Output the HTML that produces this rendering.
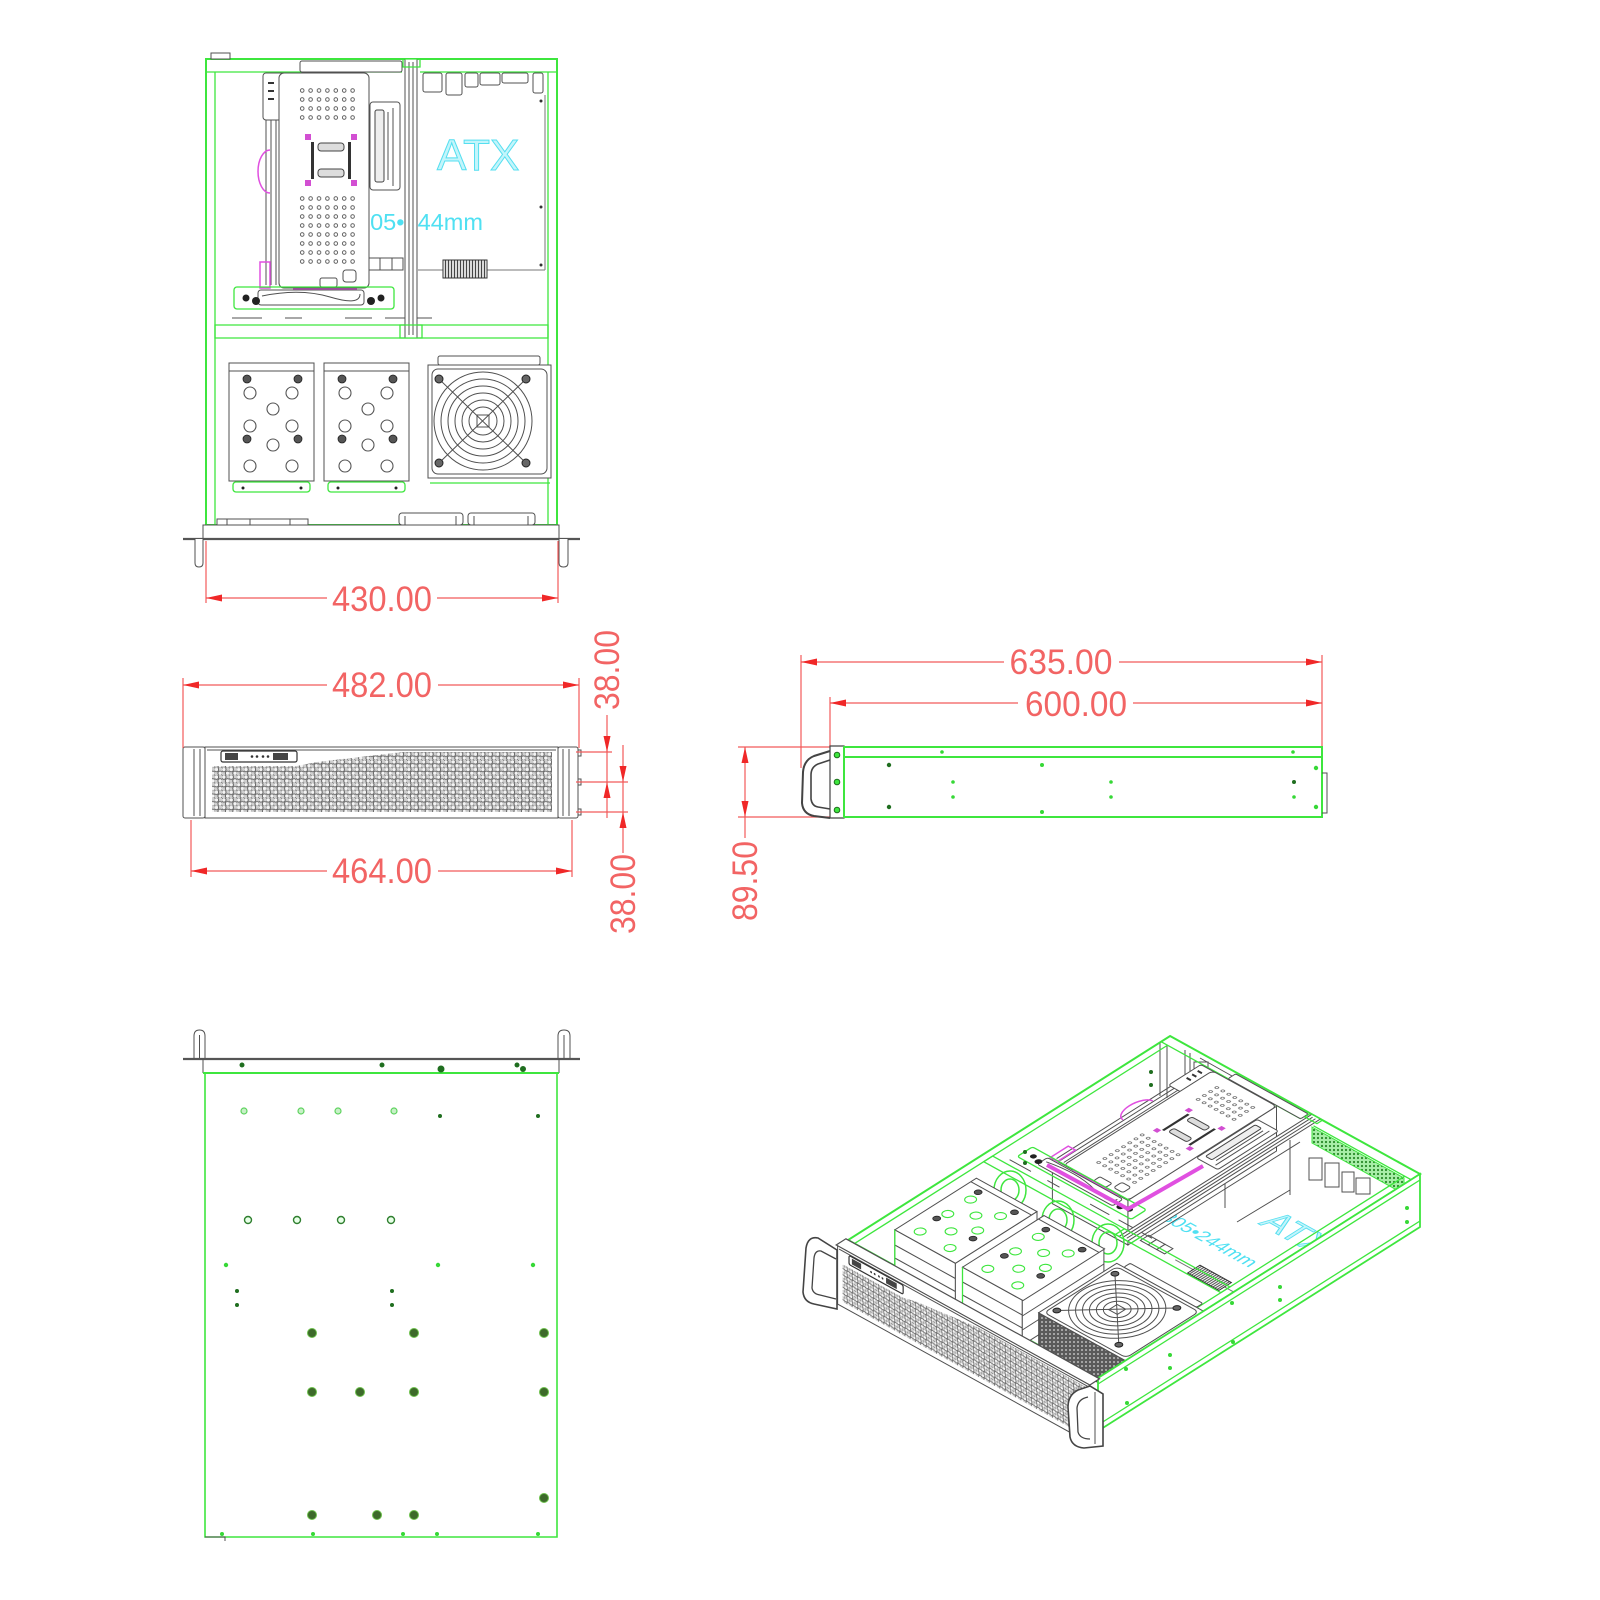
<!DOCTYPE html>
<html><head><meta charset="utf-8">
<style>
html,body{margin:0;padding:0;background:#fff;width:1600px;height:1600px;overflow:hidden}
svg{display:block}
svg *{vector-effect:non-scaling-stroke}
.g{fill:none;stroke:#3ee63e;stroke-width:2}
.g1{fill:none;stroke:#3ee63e;stroke-width:1.3}
.k{fill:none;stroke:#505050;stroke-width:1}
.kw{fill:#fff;stroke:#505050;stroke-width:1}
.r{fill:none;stroke:#f25a5a;stroke-width:1.2}
.ra{fill:#f02828}
.rt{fill:#f26464;font-family:"Liberation Sans",sans-serif;font-size:35px}
.dg{fill:#1f6e1f}
.bg{fill:#36d836}
.hc{fill:#fff;stroke:currentColor;stroke-width:1.1}
.hd{fill:#555;stroke:#222;stroke-width:0.8}
</style></head><body>
<svg width="1600" height="1600" viewBox="0 0 1600 1600" xmlns="http://www.w3.org/2000/svg">
<defs>
<marker id="ar" viewBox="0 0 16 7" refX="16" refY="3.5" markerWidth="16" markerHeight="7" markerUnits="userSpaceOnUse" orient="auto-start-reverse"><path d="M0,0 L16,3.5 L0,7z" fill="#f02828"/></marker>
<pattern id="mesh" width="7.4" height="7.6" patternUnits="userSpaceOnUse">
<rect width="7.4" height="7.6" fill="#cfcfcf"/>
<circle cx="1.85" cy="1.9" r="2.2" fill="#f4f4f4" stroke="#555" stroke-width="0.9"/>
<circle cx="5.55" cy="5.7" r="2.2" fill="#f4f4f4" stroke="#555" stroke-width="0.9"/>
</pattern>
<pattern id="holes" width="8.4" height="9" patternUnits="userSpaceOnUse" x="298" y="86">
<circle cx="4.2" cy="4.5" r="1.8" fill="#fff" stroke="#555" stroke-width="0.9"/>
</pattern>
<pattern id="hatch" width="3" height="3" patternUnits="userSpaceOnUse"><rect width="3" height="3" fill="#fff"/><line x1="1.5" y1="0" x2="1.5" y2="3" stroke="#444" stroke-width="1.4"/></pattern>
<pattern id="vent" width="4" height="4" patternUnits="userSpaceOnUse"><rect width="4" height="4" fill="#5a5a5a"/><circle cx="2" cy="2" r="1" fill="#bbb"/></pattern>
<pattern id="gvent" width="4" height="4" patternUnits="userSpaceOnUse"><rect width="4" height="4" fill="#a8eea8"/><circle cx="2" cy="2" r="1.1" fill="#2a8a2a"/></pattern>

<g id="B">
<text x="437" y="170" font-family="Liberation Sans, sans-serif" font-size="44" fill="#c3f5fb" stroke="#55dff0" stroke-width="1">ATX</text>
<text x="357" y="230" font-family="Liberation Sans, sans-serif" font-size="23" fill="#4fe0f2" textLength="126" lengthAdjust="spacingAndGlyphs">305•244mm</text>
<path d="M418 270H545M545 95V270" fill="none" stroke="#777" stroke-width="1"/>
<rect x="443" y="260" width="44" height="18" fill="url(#hatch)" stroke="#333"/>
<rect x="369" y="258" width="11" height="12" class="kw"/><rect x="380" y="258" width="12" height="12" class="kw"/><rect x="392" y="258" width="11" height="12" class="kw"/>
<circle cx="541" cy="101" r="1.5" fill="#333"/><circle cx="541" cy="207" r="1.5" fill="#333"/><circle cx="541" cy="265" r="1.5" fill="#333"/>
</g>

<g id="A1">
<rect x="206" y="59" width="351" height="466" class="g"/>
<path d="M206 72H402M420 72H557M215 72V525M548 72V525" class="g1"/>
<rect x="215" y="325" width="333" height="13" class="g1"/>
<path d="M232 318H262M285 318H302M345 318H372M385 318H432" class="k"/>
<rect x="300" y="61" width="102" height="11" rx="2" class="kw"/>
<rect x="263" y="73" width="28" height="47" rx="3" class="kw"/>
<path d="M268 83h6M268 91h6M268 99h6" stroke="#333" stroke-width="2" fill="none"/>
<path d="M266 120V285M271 120V285M276 120V285" class="k"/>
<rect x="279" y="73" width="90" height="215" rx="5" class="kw"/>
<rect x="298" y="86" width="59" height="36" fill="url(#holes)"/>
<rect x="298" y="193" width="59" height="72" fill="url(#holes)"/>
<rect x="305" y="134" width="6" height="6" fill="#d24fd2"/><rect x="351" y="134" width="6" height="6" fill="#d24fd2"/>
<rect x="305" y="180" width="6" height="6" fill="#d24fd2"/><rect x="351" y="180" width="6" height="6" fill="#d24fd2"/>
<rect x="311" y="142" width="3" height="37" fill="#333"/><rect x="348" y="142" width="3" height="37" fill="#333"/>
<rect x="318" y="143" width="26" height="8" rx="3" fill="#ddd" stroke="#444"/>
<rect x="318" y="169" width="26" height="8" rx="3" fill="#ddd" stroke="#444"/>
<rect x="320" y="278" width="17" height="9" rx="2" class="kw"/>
<rect x="343" y="270" width="13" height="12" rx="3" class="kw"/>
<path d="M270 150 A12 21.5 0 0 0 270 193" stroke="#e050e0" fill="none" stroke-width="1.5"/>
<rect x="260" y="262" width="10" height="26" fill="none" stroke="#e050e0" stroke-width="1.5"/>
<line x1="293" y1="290" x2="357" y2="290" stroke="#e050e0" stroke-width="3"/>
<rect x="234" y="287" width="160" height="22" rx="3" class="g1"/>
<rect x="258" y="290" width="106" height="15" rx="3" class="kw"/>
<path d="M262 296 Q300 288 330 297 T360 294" class="k"/>
<circle cx="246" cy="298" r="3.5" fill="#222"/><circle cx="256" cy="301" r="4" fill="#222"/>
<circle cx="371" cy="301" r="4" fill="#222"/><circle cx="381" cy="298" r="3.5" fill="#222"/>
<rect x="370" y="102" width="30" height="88" rx="3" class="kw"/>
<rect x="375" y="110" width="9" height="72" rx="2" fill="#eee" stroke="#444"/>
<path d="M388 112V180M393 108V186" class="k"/>
<rect x="405" y="59" width="12" height="279" class="kw"/>
<path d="M409 62V335M413 62V335" class="k"/>
<rect x="403" y="59" width="17" height="8" class="g1"/>
<rect x="400" y="325" width="22" height="13" class="g1"/>
</g>

<g id="H1">
<rect x="229" y="363" width="85" height="118" class="kw"/>
<path d="M229 371H314" class="k"/>
<circle cx="247" cy="379" r="4" class="hd"/><circle cx="298" cy="379" r="4" class="hd"/>
<circle cx="247" cy="439" r="4" class="hd"/><circle cx="298" cy="439" r="4" class="hd"/>
<circle cx="250" cy="393" r="6" class="hc"/><circle cx="292" cy="393" r="6" class="hc"/>
<circle cx="273" cy="409" r="6" class="hc"/><circle cx="250" cy="426" r="6" class="hc"/>
<circle cx="292" cy="426" r="6" class="hc"/><circle cx="273" cy="445" r="6" class="hc"/>
<circle cx="250" cy="466" r="6" class="hc"/><circle cx="292" cy="466" r="6" class="hc"/>
</g>
<g id="H2">
<rect x="324" y="363" width="85" height="118" class="kw"/>
<path d="M324 371H409" class="k"/>
<circle cx="342" cy="379" r="4" class="hd"/><circle cx="393" cy="379" r="4" class="hd"/>
<circle cx="342" cy="439" r="4" class="hd"/><circle cx="393" cy="439" r="4" class="hd"/>
<circle cx="345" cy="393" r="6" class="hc"/><circle cx="387" cy="393" r="6" class="hc"/>
<circle cx="368" cy="409" r="6" class="hc"/><circle cx="345" cy="426" r="6" class="hc"/>
<circle cx="387" cy="426" r="6" class="hc"/><circle cx="368" cy="445" r="6" class="hc"/>
<circle cx="345" cy="466" r="6" class="hc"/><circle cx="387" cy="466" r="6" class="hc"/>
</g>
<g id="FN">
<rect x="438" y="356" width="102" height="9" rx="2" class="kw"/>
<rect x="428" y="365" width="123" height="113" class="kw"/>
<rect x="432" y="369" width="115" height="105" rx="6" class="k"/>
<circle cx="483" cy="421" r="49" class="k"/><circle cx="483" cy="421" r="42" class="k"/>
<circle cx="483" cy="421" r="35" class="k"/><circle cx="483" cy="421" r="28" class="k"/>
<circle cx="483" cy="421" r="21" class="k"/><circle cx="483" cy="421" r="14" class="k"/>
<rect x="477" y="415" width="12" height="12" class="k"/>
<path d="M439 379L526 463M526 379L439 463" class="k"/>
<circle cx="439" cy="379" r="4" fill="#666" stroke="#222"/><circle cx="526" cy="379" r="4" fill="#666" stroke="#222"/>
<circle cx="439" cy="463" r="4" fill="#666" stroke="#222"/><circle cx="526" cy="463" r="4" fill="#666" stroke="#222"/>
</g>

<g id="C">
<rect x="205" y="747" width="353" height="71" class="kw"/>
<path d="M207 750H556" class="k"/>
<polygon points="212,766 297,766 317,762 360,757 403,752 552,752 552,812 212,812" fill="url(#mesh)"/>
<rect x="221" y="751" width="76" height="11" rx="2" fill="#fff" stroke="#333" stroke-width="1.2"/>
<rect x="225" y="753" width="13" height="7" fill="#444"/>
<rect x="273" y="753" width="15" height="7" fill="#444"/>
<circle cx="252" cy="756.5" r="1.3" fill="#333"/><circle cx="257" cy="756.5" r="1.3" fill="#333"/>
<circle cx="263" cy="756.5" r="1.3" fill="#333"/><circle cx="268" cy="756.5" r="1.3" fill="#333"/>
</g>
</defs>

<!-- TOP VIEW -->
<use href="#B"/>
<use href="#A1"/>
<use href="#H1" style="color:#555"/>
<use href="#H2" style="color:#555"/>
<use href="#FN"/>
<rect x="211" y="53" width="19" height="6" class="kw"/>
<rect x="423" y="73" width="19" height="19" rx="2" class="kw"/>
<rect x="446" y="73" width="16" height="22" rx="2" class="kw"/>
<rect x="465" y="73" width="13" height="14" rx="2" class="kw"/>
<rect x="480" y="73" width="20" height="12" rx="2" class="kw"/>
<rect x="502" y="73" width="26" height="10" rx="2" class="kw"/>
<rect x="533" y="73" width="10" height="20" rx="2" class="kw"/>
<rect x="233" y="482" width="77" height="10" rx="3" class="g1"/>
<rect x="328" y="482" width="77" height="10" rx="3" class="g1"/>
<circle cx="243" cy="488" r="1.5" fill="#222"/><circle cx="301" cy="488" r="1.5" fill="#222"/>
<circle cx="338" cy="488" r="1.5" fill="#222"/><circle cx="396" cy="488" r="1.5" fill="#222"/>
<path d="M430 483H550" class="g1"/>
<rect x="217" y="519" width="91" height="6" class="kw"/>
<path d="M227 519v6M250 519v6M290 519v6" class="k"/>
<rect x="399" y="513" width="64" height="12" rx="3" class="kw"/>
<rect x="468" y="513" width="67" height="12" rx="3" class="kw"/>
<path d="M405 516v9M456 516v9M474 516v9M528 516v9" class="k"/>
<rect x="203" y="525" width="356" height="14" class="kw"/>
<line x1="183" y1="539" x2="580" y2="539" stroke="#555" stroke-width="2.2"/>
<path d="M195 539V563Q195 567 199 567Q203 567 203 563V539" class="kw"/>
<path d="M559 539V563Q559 567 563.5 567Q568 567 568 563V539" class="kw"/>

<path class="r" d="M206 541V603M558 541V603"/>
<line class="r" x1="206" y1="598" x2="327" y2="598" marker-start="url(#ar)"/>
<line class="r" x1="437" y1="598" x2="558" y2="598" marker-end="url(#ar)"/>
<text class="rt" x="382" y="611" text-anchor="middle" textLength="100" lengthAdjust="spacingAndGlyphs">430.00</text>

<!-- FRONT VIEW -->
<use href="#C"/>
<rect x="183" y="747" width="22" height="71" rx="2" class="kw"/>
<path d="M194 749V816M200 749V816" class="k"/>
<rect x="558" y="747" width="20" height="71" rx="2" class="kw"/>
<path d="M563 749V816M569 749V816" class="k"/>
<path d="M578 750h3v6h-3M578 779h3v6h-3M578 809h3v6h-3" class="k"/>

<path class="r" d="M183 678V748M579 678V748"/>
<line class="r" x1="183" y1="685" x2="327" y2="685" marker-start="url(#ar)"/>
<line class="r" x1="438" y1="685" x2="579" y2="685" marker-end="url(#ar)"/>
<text class="rt" x="382" y="697" text-anchor="middle" textLength="100" lengthAdjust="spacingAndGlyphs">482.00</text>

<path class="r" d="M191 820V877M572 820V877"/>
<line class="r" x1="191" y1="871" x2="327" y2="871" marker-start="url(#ar)"/>
<line class="r" x1="438" y1="871" x2="572" y2="871" marker-end="url(#ar)"/>
<text class="rt" x="382" y="883" text-anchor="middle" textLength="100" lengthAdjust="spacingAndGlyphs">464.00</text>

<path class="r" d="M576 752H612M576 782H628M576 812H628M607 715V818M623 745V853"/>
<polygon class="ra" points="607,752 603.5,736 610.5,736"/>
<polygon class="ra" points="607,782 603.5,798 610.5,798"/>
<polygon class="ra" points="623,782 619.5,766 626.5,766"/>
<polygon class="ra" points="623,812 619.5,828 626.5,828"/>
<text class="rt" transform="translate(619 670) rotate(-90)" text-anchor="middle" textLength="80" lengthAdjust="spacingAndGlyphs">38.00</text>
<text class="rt" transform="translate(635 894) rotate(-90)" text-anchor="middle" textLength="80" lengthAdjust="spacingAndGlyphs">38.00</text>

<!-- SIDE VIEW -->
<path class="r" d="M738 747H830M738 817H830M745 747V838"/>
<polygon class="ra" points="745,747 741.5,763 748.5,763"/>
<polygon class="ra" points="745,817 741.5,801 748.5,801"/>
<text class="rt" transform="translate(757 881) rotate(-90)" text-anchor="middle" textLength="80" lengthAdjust="spacingAndGlyphs">89.50</text>

<path class="r" d="M801 655V768M1322 655V747M830 697V747"/>
<line class="r" x1="801" y1="662" x2="1004" y2="662" marker-start="url(#ar)"/>
<line class="r" x1="1119" y1="662" x2="1322" y2="662" marker-end="url(#ar)"/>
<text class="rt" x="1061" y="674" text-anchor="middle" textLength="103" lengthAdjust="spacingAndGlyphs">635.00</text>
<line class="r" x1="830" y1="703" x2="1018" y2="703" marker-start="url(#ar)"/>
<line class="r" x1="1133" y1="703" x2="1322" y2="703" marker-end="url(#ar)"/>
<text class="rt" x="1076" y="716" text-anchor="middle" textLength="102" lengthAdjust="spacingAndGlyphs">600.00</text>

<path d="M830 751L814 756Q804 760 803 772L802 803Q803 814 814 816L830 818" fill="none" stroke="#444" stroke-width="2"/>
<path d="M830 760L818 764Q811 767 811 775L811 799Q812 806 818 807L830 809" fill="none" stroke="#444" stroke-width="1.6"/>
<rect x="830" y="746" width="14" height="72" fill="#fff" stroke="#444" stroke-width="1.2"/>
<circle cx="837" cy="755" r="2.8" fill="#3ee63e" stroke="#1f6e1f"/>
<circle cx="837" cy="782" r="2.8" fill="#3ee63e" stroke="#1f6e1f"/>
<circle cx="837" cy="810" r="2.8" fill="#3ee63e" stroke="#1f6e1f"/>
<rect x="844" y="747" width="478" height="70" class="g"/>
<path d="M844 757H1322" class="g"/>
<path d="M1322 773h5v40h-5" class="k"/>
<circle cx="942" cy="752" r="1.8" class="bg"/><circle cx="1293" cy="752" r="1.8" class="bg"/>
<circle cx="889" cy="765" r="2.2" class="dg"/><circle cx="889" cy="807" r="2.2" class="dg"/>
<circle cx="1042" cy="765" r="2" class="bg"/><circle cx="1042" cy="812" r="2" class="bg"/>
<circle cx="953" cy="782" r="1.8" class="bg"/><circle cx="953" cy="797" r="1.8" class="bg"/>
<circle cx="1111" cy="782" r="1.8" class="bg"/><circle cx="1111" cy="797" r="1.8" class="bg"/>
<circle cx="1294" cy="782" r="2" class="dg"/><circle cx="1294" cy="797" r="1.8" class="bg"/>
<circle cx="1316" cy="768" r="2.2" class="bg"/><circle cx="1316" cy="807" r="2.2" class="bg"/>

<!-- BOTTOM VIEW -->
<path d="M194 1059V1036Q194 1030 199.5 1030Q205 1030 205 1036V1059" class="kw"/>
<path d="M199.5 1035V1059" class="k"/>
<path d="M558 1059V1036Q558 1030 564 1030Q570 1030 570 1036V1059" class="kw"/>
<path d="M564 1035V1059" class="k"/>
<line x1="183" y1="1059" x2="580" y2="1059" stroke="#555" stroke-width="2.2"/>
<path d="M203 1059V1073M559 1059V1073" class="k"/>
<rect x="205" y="1073" width="352" height="464" fill="none" stroke="#3ee63e" stroke-width="1.6"/>
<line x1="203" y1="1073" x2="559" y2="1073" class="g"/>
<path d="M205 1537h20v4" class="k"/>
<circle cx="242" cy="1065" r="2.5" class="dg"/><circle cx="382" cy="1065" r="2.5" class="dg"/>
<circle cx="441" cy="1069" r="3.5" class="dg"/><circle cx="517" cy="1065" r="2.5" class="dg"/>
<circle cx="523" cy="1069" r="3" class="dg"/>
<g fill="#c8f0c8" stroke="#5fd35f" stroke-width="1.2">
<circle cx="244" cy="1111" r="3"/><circle cx="301" cy="1111" r="3"/><circle cx="338" cy="1111" r="3"/><circle cx="394" cy="1111" r="3"/>
</g>
<circle cx="440" cy="1116" r="2" class="dg"/><circle cx="538" cy="1116" r="2" class="dg"/>
<g fill="#e8ffe8" stroke="#2f7f2f" stroke-width="1.4">
<circle cx="248" cy="1220" r="3.5"/><circle cx="297" cy="1220" r="3.5"/><circle cx="341" cy="1220" r="3.5"/><circle cx="391" cy="1220" r="3.5"/>
</g>
<circle cx="226" cy="1265" r="2.2" class="bg"/><circle cx="438" cy="1265" r="2.2" class="bg"/><circle cx="533" cy="1265" r="2.2" class="bg"/>
<circle cx="237" cy="1291" r="2" class="dg"/><circle cx="392" cy="1291" r="2" class="dg"/>
<circle cx="237" cy="1305" r="2" class="dg"/><circle cx="392" cy="1305" r="2" class="dg"/>
<g fill="#3d6a2a" stroke="#6bbf4a" stroke-width="1">
<circle cx="312" cy="1333" r="4.5"/><circle cx="414" cy="1333" r="4.5"/><circle cx="544" cy="1333" r="4.5"/>
<circle cx="312" cy="1392" r="4.5"/><circle cx="360" cy="1392" r="4.5"/><circle cx="414" cy="1392" r="4.5"/><circle cx="544" cy="1392" r="4.5"/>
<circle cx="544" cy="1498" r="4.5"/>
<circle cx="312" cy="1515" r="4.5"/><circle cx="377" cy="1515" r="4.5"/><circle cx="414" cy="1515" r="4.5"/>
</g>
<circle cx="222" cy="1534" r="2" class="bg"/><circle cx="313" cy="1534" r="2" class="bg"/><circle cx="403" cy="1534" r="2" class="bg"/>
<circle cx="437" cy="1534" r="2" class="bg"/><circle cx="538" cy="1534" r="2" class="bg"/>

<!-- ISOMETRIC VIEW -->
<path d="M1167 1045V1098M1160 1042V1096M1185 1050V1100M1190 1053V1104" class="k"/>
<rect x="1194" y="1062" width="14" height="14" class="kw"/>
<path d="M1200 1058L1232 1076M1210 1080L1240 1097" class="k"/>
<polygon points="1312,1127 1404,1178 1404,1194 1312,1143" fill="url(#gvent)" stroke="#3ee63e"/>
<rect x="1309" y="1158" width="13" height="22" class="kw"/>
<rect x="1325" y="1163" width="14" height="24" class="kw"/>
<rect x="1342" y="1172" width="12" height="20" class="kw"/>
<rect x="1356" y="1178" width="14" height="16" class="kw"/>
<use href="#B" transform="translate(0 48) matrix(0.7123 0.3932 -0.691 0.4378 1064.1 929.2)"/>
<path d="M1225 1150V1208M1290 1140V1195M1237 1222L1290 1190M1150 1236L1300 1142" class="k"/>
<polygon points="1276.5,1106.3 1127.9,1200.4 1127.9,1245 1276.5,1151" class="kw"/>
<polygon points="1052.4,1158.7 1127.9,1200.4 1127.9,1245 1052.4,1203.7" class="kw"/>
<use href="#A1" transform="matrix(0.7123 0.3932 -0.691 0.4378 1064.1 929.2)"/>
<polyline points="1047,1165 1128,1209 1203,1166" fill="none" stroke="#e050e0" stroke-width="4"/>
<circle cx="1025" cy="1152" r="2" class="dg"/><circle cx="1025" cy="1163" r="2" class="dg"/>
<circle cx="1151" cy="1072" r="2" class="dg"/><circle cx="1151" cy="1085" r="2" class="dg"/>
<g fill="none" stroke="#3ee63e" stroke-width="1.5">
<ellipse cx="1010" cy="1190" rx="16" ry="19"/><ellipse cx="1010" cy="1190" rx="9" ry="11"/>
<ellipse cx="1058" cy="1220" rx="16" ry="19"/><ellipse cx="1058" cy="1220" rx="9" ry="11"/>
<ellipse cx="1108" cy="1243" rx="16" ry="19"/><ellipse cx="1108" cy="1243" rx="9" ry="11"/>
</g>
<polygon points="894.8,1229.8 955.4,1263.3 955.4,1308.3 894.8,1274.8" class="kw"/>
<path d="M894.8 1245L955.4 1278.5M894.8 1258L955.4 1291.5" class="k"/>
<polygon points="955.4,1263.3 1037,1211.6 1037,1256.6 955.4,1308.3" class="kw"/>
<use href="#H1" transform="matrix(0.7123 0.3932 -0.691 0.4378 1064.1 929.2)" style="color:#3ee63e"/>
<polygon points="962.5,1267.2 1022.3,1300.2 1022.3,1345.2 962.5,1312.2" class="kw"/>
<path d="M962.5 1282L1022.3 1315M962.5 1295L1022.3 1328" class="k"/>
<polygon points="1022.3,1300.2 1103.9,1248.5 1103.9,1293.5 1022.3,1345.2" class="kw"/>
<path d="M1022.3 1316L1103.9 1264M1022.3 1330L1103.9 1278" class="k"/>
<use href="#H2" transform="matrix(0.7123 0.3932 -0.691 0.4378 1064.1 929.2)" style="color:#3ee63e"/>
<path d="M894.8 1229.8V1275M962.5 1267.2V1312" class="g1"/>
<polygon points="1038.7,1312.8 1126.3,1361.1 1126.3,1398 1038.7,1350" fill="url(#vent)" stroke="#444"/>
<use href="#FN" transform="translate(0 6) matrix(0.7123 0.3932 -0.691 0.4378 1064.1 929.2)"/>
<polygon points="1098,1378 1420,1174 1420,1227 1098,1431" fill="#fff" stroke="#3ee63e" stroke-width="1.8"/>
<path d="M1098 1384L1420 1180M1098 1425L1420 1221" class="g1"/>
<circle cx="1407" cy="1208" r="2" class="bg"/><circle cx="1407" cy="1222" r="2" class="bg"/>
<circle cx="1280" cy="1287" r="2" class="bg"/><circle cx="1280" cy="1300" r="2" class="bg"/>
<circle cx="1232" cy="1303" r="2" class="bg"/><circle cx="1233" cy="1342" r="2" class="bg"/>
<circle cx="1170" cy="1355" r="2" class="bg"/><circle cx="1170" cy="1368" r="2" class="bg"/>
<circle cx="1126" cy="1369" r="2" class="bg"/><circle cx="1127" cy="1403" r="2" class="bg"/>
<polygon points="845.9,1238.8 1099.5,1378.8 1089.8,1385 836.2,1245" fill="#fff" stroke="#505050" stroke-width="1.2"/>
<use href="#C" transform="matrix(0.7123 0.3932 0 0.82 691.6 552.7)"/>
<path d="M837 1250L818 1238Q808 1236 806 1248L803 1292Q804 1302 814 1304L837 1309Z" fill="#fff" stroke="#444" stroke-width="1.6"/>
<path d="M836 1259L821 1251Q815 1250 814 1258L812 1288Q813 1294 820 1295L836 1299" fill="none" stroke="#444" stroke-width="1.3"/>
<path d="M1090 1386L1078 1390Q1068 1395 1068 1407L1070 1437Q1072 1447 1084 1448L1103 1446L1103 1394Z" fill="#fff" stroke="#444" stroke-width="1.6"/>
<path d="M1088 1397Q1078 1399 1077 1408L1078 1432Q1080 1439 1090 1439" fill="none" stroke="#444" stroke-width="1.3"/>
<path d="M1095 1392V1444" class="k"/>
</svg>
</body></html>
